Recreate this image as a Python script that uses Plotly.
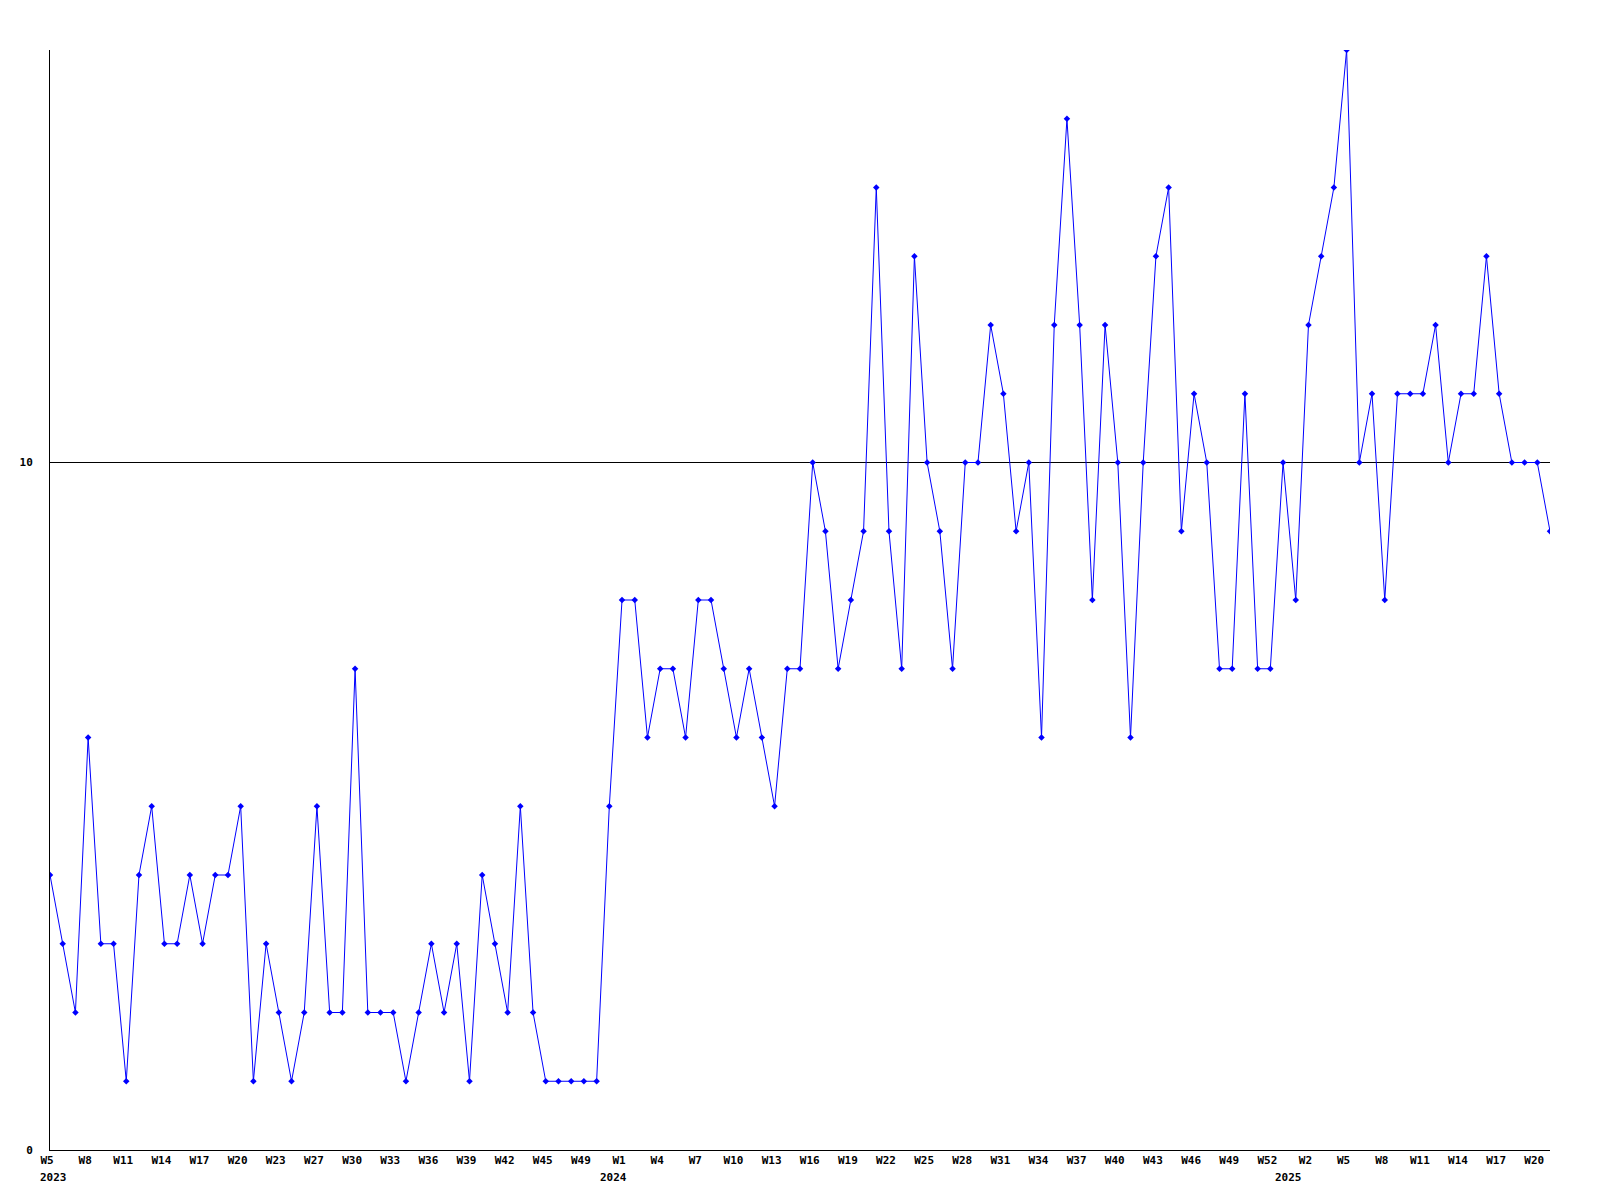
import plotly.graph_objects as go

# Weekly values, W5 2023 .. ~W21 2025
values = [4, 3, 2, 6, 3, 3, 1, 4, 5, 3,
          3, 4, 3, 4, 4, 5, 1, 3, 2, 1,
          2, 5, 2, 2, 7, 2, 2, 2, 1, 2,
          3, 2, 3, 1, 4, 3, 2, 5, 2, 1,
          1, 1, 1, 1, 5, 8, 8, 6, 7, 7,
          6, 8, 8, 7, 6, 7, 6, 5, 7, 7,
          10, 9, 7, 8, 9, 14, 9, 7, 13, 10,
          9, 7, 10, 10, 12, 11, 9, 10, 6, 12,
          15, 12, 8, 12, 10, 6, 10, 13, 14, 9,
          11, 10, 7, 7, 11, 7, 7, 10, 8, 12,
          13, 14, 16, 10, 11, 8, 11, 11, 11, 12,
          10, 11, 11, 13, 11, 10, 10, 10, 9]

week_labels = ["W5", "W8", "W11", "W14", "W17", "W20", "W23", "W27", "W30", "W33",
               "W36", "W39", "W42", "W45", "W49",
               "W1", "W4", "W7", "W10", "W13", "W16", "W19", "W22", "W25", "W28",
               "W31", "W34", "W37", "W40", "W43", "W46", "W49", "W52",
               "W2", "W5", "W8", "W11", "W14", "W17", "W20"]
label_every = 3

year_labels = ["2023", "2024", "2025"]
year_start_week_index = [0.25, 44.3, 97.4]

y_ticks = [0, 10]
y_max = 16

x = list(range(len(values)))
tickvals = [i * label_every for i in range(len(week_labels))]

font = dict(family="DejaVu Sans Mono, Liberation Mono, monospace", size=11,
            color="black", weight="bold")

fig = go.Figure()
fig.add_trace(go.Scatter(
    x=x, y=values, mode="lines+markers",
    line=dict(color="#0000ff", width=1),
    marker=dict(symbol="diamond", size=5, color="#0000ff"),
    showlegend=False, hoverinfo="skip"))

for lab, pos in zip(year_labels, year_start_week_index):
    fig.add_annotation(x=pos, y=0, xref="x", yref="paper", text=lab,
                       showarrow=False, xanchor="center", yanchor="middle",
                       yshift=-27, font=font)

fig.update_layout(
    width=1600, height=1200,
    margin=dict(l=42, r=58, t=42, b=58, pad=0),
    paper_bgcolor="white", plot_bgcolor="white",
    font=font,
    xaxis=dict(range=[0, len(values) - 1], tickvals=tickvals, ticktext=week_labels,
               showgrid=False, zeroline=False, showline=True, linecolor="black",
               linewidth=1, ticks="", tickangle=0, tickfont=font,
               ticklabelshift=-3),
    yaxis=dict(range=[0, y_max], tickvals=y_ticks, ticktext=[str(t) for t in y_ticks],
               showgrid=True, gridcolor="black", gridwidth=1, zeroline=False,
               showline=True, linecolor="black", linewidth=1,
               ticks="outside", ticklen=14, tickcolor="rgba(0,0,0,0)", tickfont=font),
)

fig.write_html("out.html")
